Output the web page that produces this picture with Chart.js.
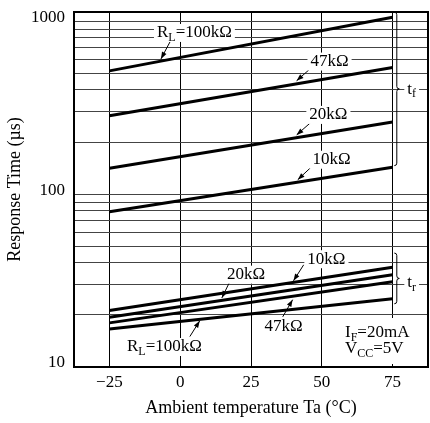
<!DOCTYPE html>
<html>
<head>
<meta charset="utf-8">
<script src="https://cdn.jsdelivr.net/npm/chart.js@4"></script>
<style>
  html, body { margin: 0; padding: 0; background: #fff; }
  #wrap { width: 430px; height: 423px; }
</style>
</head>
<body>
<div id="wrap"><canvas id="chart" width="430" height="423"></canvas></div>
<script>
// Ambient temperature (°C) at the two ends of each line
const temps = [-25, 75];

// Fall time t_f (µs) per load resistance
const tf100k = [516, 1055];
const tf47k = [284, 539];
const tf20k = [141, 261];
const tf10k = [79, 143];

// Rise time t_r (µs) per load resistance
const tr10k = [21.2, 37.8];
const tr20k = [19.4, 34.2];
const tr47k = [18.0, 31.1];
const tr100k = [16.6, 24.8];

// Axis ticks
const xTicks = [-25, 0, 25, 50, 75];
const yGrid = [10, 20, 30, 40, 50, 60, 70, 80, 90, 100, 200, 300, 400, 500, 600, 700, 800, 900, 1000];
const yLabels = [10, 100, 1000];
const xMin = -37.5, xMax = 87.5, yMin = 10, yMax = 1130;

const FONT = '"Liberation Serif", "Times New Roman", serif';

function toPoints(arr) {
    return temps.map((t, i) => ({ x: t, y: arr[i] }));
}

const series = [tf100k, tf47k, tf20k, tf10k, tr10k, tr20k, tr47k, tr100k];

// Labels, arrows and braces, placed in data units
const notes = [
    { parts: [['R'], ['L', 1], ['=100kΩ']], x: -8.2, y: 855, arrow: [[-3.6, 759], [-6.8, 605]] },
    { parts: [['47kΩ']], x: 46, y: 584, arrow: [[46.7, 545], [41.1, 452]] },
    { parts: [['20kΩ']], x: 45.6, y: 287, arrow: [[46.4, 262], [41.1, 220]] },
    { parts: [['10kΩ']], x: 46.7, y: 158, arrow: [[46.4, 144], [41.5, 121]] },
    { parts: [['10kΩ']], x: 44.9, y: 42, arrow: [[43.6, 39], [40.0, 31.5]] },
    { parts: [['20kΩ']], x: 16.5, y: 34.2, arrow: [[17.5, 31.1], [14.7, 25.1]] },
    { parts: [['47kΩ']], x: 29.8, y: 17.2, arrow: [[36.2, 19.5], [39.7, 24.5]] },
    { parts: [['R'], ['L', 1], ['=100kΩ']], x: -18.8, y: 13.05, arrow: [[3.4, 15.0], [6.9, 18.5]] },
    { parts: [['t'], ['f', 1]], x: 80.2, y: 404 },
    { parts: [['t'], ['r', 1]], x: 80.2, y: 30.8 }
];

const braces = [
    { x: 75.6, top: 1127, bottom: 146 },
    { x: 75.6, top: 45.6, bottom: 23.2 }
];

const conditions = [
    [['I'], ['F', 1], ['=20mA']],
    [['V'], ['CC', 1], ['=5V']]
];

function partFont(p) {
    return p[1] ? '12px ' + FONT : '17px ' + FONT;
}

function drawRich(ctx, parts, x, y, box) {
    let w = 0;
    parts.forEach(p => { ctx.font = partFont(p); w += ctx.measureText(p[0]).width; });
    if (box) {
        ctx.fillStyle = '#fff';
        ctx.fillRect(x - 3, y - 9, w + 6, 18);
    }
    ctx.fillStyle = '#000';
    ctx.textBaseline = 'middle';
    ctx.textAlign = 'left';
    let cx = x;
    parts.forEach(p => {
        ctx.font = partFont(p);
        ctx.fillText(p[0], cx, p[1] ? y + 5 : y);
        cx += ctx.measureText(p[0]).width;
    });
}

function drawArrow(ctx, x0, y0, x1, y1) {
    const a = Math.atan2(y1 - y0, x1 - x0);
    ctx.beginPath();
    ctx.moveTo(x0, y0);
    ctx.lineTo(x1, y1);
    ctx.stroke();
    ctx.beginPath();
    ctx.moveTo(x1, y1);
    ctx.lineTo(x1 - 7 * Math.cos(a) + 2.5 * Math.sin(a), y1 - 7 * Math.sin(a) - 2.5 * Math.cos(a));
    ctx.lineTo(x1 - 7 * Math.cos(a) - 2.5 * Math.sin(a), y1 - 7 * Math.sin(a) + 2.5 * Math.cos(a));
    ctx.closePath();
    ctx.fill();
}

function drawBrace(ctx, x, y0, y1, w) {
    const ym = (y0 + y1) / 2, r = w / 2;
    ctx.beginPath();
    ctx.moveTo(x, y0);
    ctx.quadraticCurveTo(x + r, y0, x + r, y0 + r);
    ctx.lineTo(x + r, ym - r);
    ctx.quadraticCurveTo(x + r, ym, x + w, ym);
    ctx.quadraticCurveTo(x + r, ym, x + r, ym + r);
    ctx.lineTo(x + r, y1 - r);
    ctx.quadraticCurveTo(x + r, y1, x, y1);
    ctx.stroke();
}

const notesPlugin = {
    id: 'notes',
    afterDatasetsDraw(chart) {
        const ctx = chart.ctx;
        const xs = chart.scales.x, ys = chart.scales.y;
        const area = chart.chartArea;
        ctx.save();
        ctx.strokeStyle = '#000';
        ctx.fillStyle = '#000';
        ctx.lineWidth = 1;

        braces.forEach(b => {
            drawBrace(ctx, xs.getPixelForValue(b.x), ys.getPixelForValue(b.top), ys.getPixelForValue(b.bottom), 5);
        });

        notes.forEach(n => {
            if (n.arrow) {
                ctx.strokeStyle = '#000';
                ctx.fillStyle = '#000';
                ctx.lineWidth = 1;
                drawArrow(ctx,
                    xs.getPixelForValue(n.arrow[0][0]), ys.getPixelForValue(n.arrow[0][1]),
                    xs.getPixelForValue(n.arrow[1][0]), ys.getPixelForValue(n.arrow[1][1]));
            }
            drawRich(ctx, n.parts, xs.getPixelForValue(n.x), ys.getPixelForValue(n.y), true);
        });

        // test conditions box in the lower right corner
        const bx = area.right - 88, by = area.bottom - 49;
        ctx.fillStyle = '#fff';
        ctx.fillRect(bx, by, 84, 46);
        drawRich(ctx, conditions[0], bx + 5, by + 15, false);
        drawRich(ctx, conditions[1], bx + 5, by + 31, false);

        // frame
        ctx.strokeStyle = '#000';
        ctx.lineWidth = 2;
        ctx.strokeRect(area.left, area.top, area.right - area.left, area.bottom - area.top);
        ctx.restore();
    }
};

new Chart(document.getElementById('chart'), {
    type: 'line',
    data: {
        datasets: series.map(s => ({
            data: toPoints(s),
            borderColor: '#000',
            borderWidth: 3,
            pointRadius: 0,
            tension: 0,
            fill: false
        }))
    },
    options: {
        responsive: false,
        devicePixelRatio: 1,
        animation: false,
        layout: { padding: { top: 12, right: 2, left: 0, bottom: 0 } },
        plugins: {
            legend: { display: false },
            tooltip: { enabled: false }
        },
        scales: {
            x: {
                type: 'linear',
                min: xMin,
                max: xMax,
                afterBuildTicks: scale => { scale.ticks = xTicks.map(v => ({ value: v })); },
                afterFit: scale => {
                    scale.height = 56;
                    scale.paddingLeft = 0;
                    scale.paddingRight = 0;
                },
                ticks: {
                    color: '#000',
                    padding: 5,
                    font: { family: FONT, size: 17 },
                    callback: v => v < 0 ? '\u2212' + Math.abs(v) : String(v)
                },
                grid: { color: '#000', lineWidth: 1, drawTicks: false },
                border: { display: false },
                title: {
                    display: true,
                    text: 'Ambient temperature Ta (°C)',
                    color: '#000',
                    font: { family: FONT, size: 18 },
                    padding: { top: 0, bottom: 4 }
                }
            },
            y: {
                type: 'logarithmic',
                min: yMin,
                max: yMax,
                afterBuildTicks: scale => { scale.ticks = yGrid.map(v => ({ value: v })); },
                afterFit: scale => {
                    scale.width = 74;
                    scale.paddingTop = 0;
                    scale.paddingBottom = 0;
                },
                ticks: {
                    color: '#000',
                    padding: 9,
                    labelOffset: -4,
                    autoSkip: false,
                    font: { family: FONT, size: 17 },
                    callback: v => yLabels.includes(v) ? String(v) : ''
                },
                grid: { color: '#444', lineWidth: 1, drawTicks: false },
                border: { display: false },
                title: {
                    display: true,
                    text: 'Response Time (µs)',
                    color: '#000',
                    font: { family: FONT, size: 18 },
                    padding: { top: 4, bottom: 0 }
                }
            }
        }
    },
    plugins: [notesPlugin]
});
</script>
</body>
</html>
